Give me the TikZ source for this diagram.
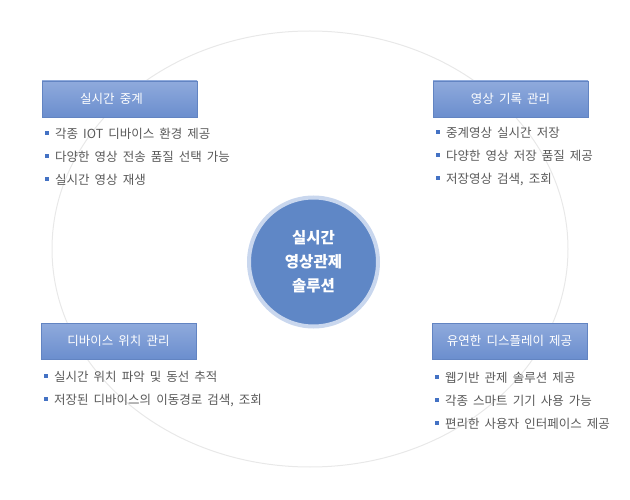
\documentclass[tikz,border=0pt]{standalone}
\usepackage{fontspec}
\setmainfont[WordSpace=1.8]{Noto Sans CJK KR}
\usetikzlibrary{positioning}
\definecolor{ctrlBlue}{HTML}{5F87C6}
\definecolor{ctrlRing}{HTML}{C9D7EE}
\definecolor{ctrlTop}{HTML}{8FAADC}
\definecolor{ctrlBot}{HTML}{6B8ECE}
\definecolor{ctrlEdge}{HTML}{6284C2}
\definecolor{ctrlText}{HTML}{595959}
\definecolor{ctrlDot}{HTML}{4472C4}
\newcommand{\itm}{{\color{ctrlDot}\rule[0.3em]{3.5pt}{3.5pt}}\hspace{6.5pt}}

\begin{document}
\begin{tikzpicture}[x=1pt,y=-1pt,
    title/.style={draw=ctrlEdge,line width=0.6pt,top color=ctrlTop,bottom color=ctrlBot,
                  minimum width=155pt,minimum height=36pt,inner sep=0pt,text=white,
                  font=\fontsize{12.5}{15}\selectfont},
    items/.style={anchor=north west,inner sep=0pt,align=left,text=ctrlText,
                  font=\fontsize{12.5}{23}\selectfont}]
  \useasboundingbox (0,0) rectangle (630,500);
  % backdrop ring
  \draw[black!9,line width=1pt] (310,249) ellipse [x radius=258,y radius=218];
  % centre
  \node[circle,fill=ctrlBlue,draw=ctrlRing,line width=4pt,minimum size=129pt,
        align=center,text=white,font=\bfseries\fontsize{15.5}{24}\selectfont] (hub) at (313.5,262)
        {실시간\\영상관제\\솔루션};
  % four topics
  \node[title] (t1) at (119.5,99) {실시간 중계\kern16pt};
  \node[title] (t2) at (510.5,99) {영상 기록 관리};
  \node[title] (t3) at (118.5,341) {디바이스 위치 관리};
  \node[title] (t4) at (509.5,341) {유연한 디스플레이 제공};
  \node[items] (l1) at (45,128) {\itm 각종 IOT 디바이스 환경 제공\\
    \itm 다양한 영상 전송 품질 선택 가능\\\itm 실시간 영상 재생};
  \node[items] (l2) at (436,127) {\itm 중계영상 실시간 저장\\
    \itm 다양한 영상 저장 품질 제공\\\itm 저장영상 검색, 조회};
  \node[items] (l3) at (44,371) {\itm 실시간 위치 파악 및 동선 추적\\
    \itm 저장된 디바이스의 이동경로 검색, 조회};
  \node[items] (l4) at (435,372) {\itm 웹기반 관제 솔루션 제공\\
    \itm 각종 스마트 기기 사용 가능\\\itm 편리한 사용자 인터페이스 제공};
\end{tikzpicture}
\end{document}
